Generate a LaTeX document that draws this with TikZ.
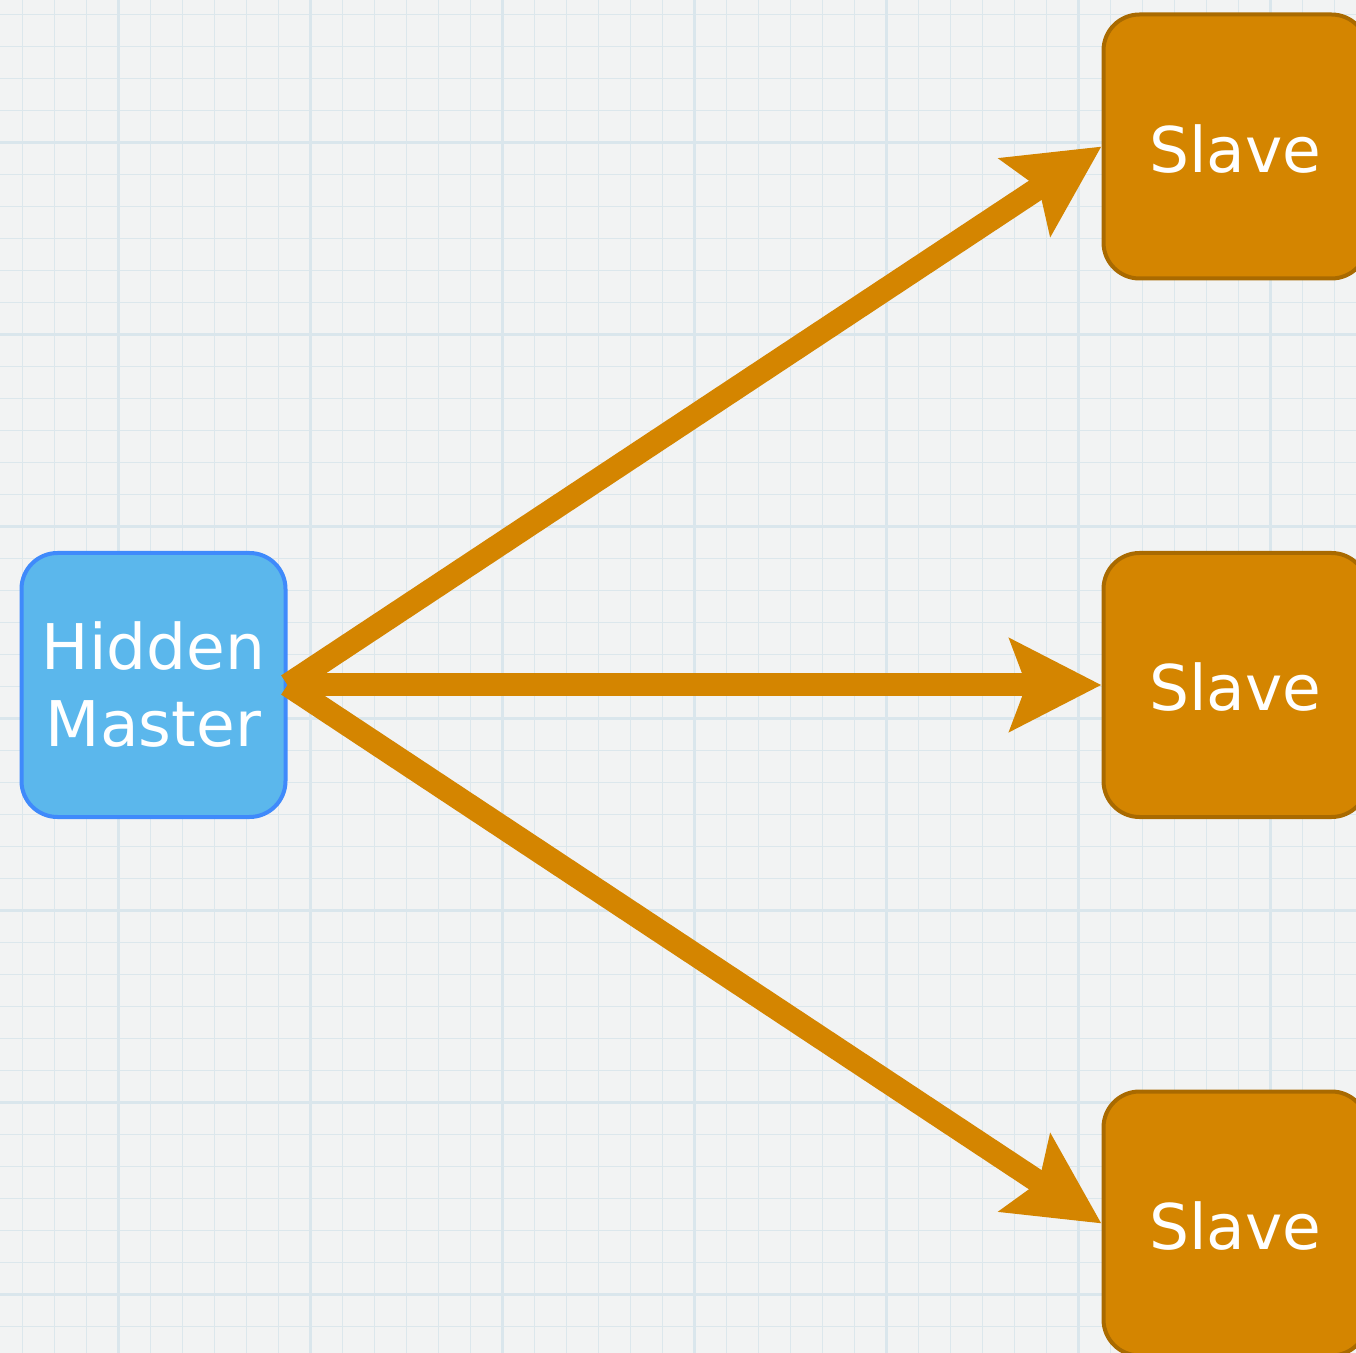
\documentclass[tikz,border=0pt]{standalone}
\usepackage{fontspec}
\setmainfont{DejaVu Sans}
\usetikzlibrary{arrows.meta}
\definecolor{paper}{HTML}{F2F3F3}
\definecolor{gridminor}{HTML}{DCE7EC}
\definecolor{gridmajor}{HTML}{DAE6EC}
\definecolor{masterfill}{HTML}{5BB7EC}
\definecolor{masterline}{HTML}{3F8AFB}
\definecolor{slavefill}{HTML}{D48500}
\definecolor{slaveline}{HTML}{A96A00}

\begin{document}
\begin{tikzpicture}[x=0.5pt, y=-0.5pt,
      box/.style={draw, rounded corners=18pt, line width=2pt, minimum width=132pt, minimum height=132pt,
        inner sep=0pt, align=center, text=white, font=\fontsize{31.5pt}{38.5pt}\selectfont},
      master/.style={box, fill=masterfill, draw=masterline},
      slave/.style={box, fill=slavefill, draw=slaveline, text height=26pt},
      link/.style={-{Stealth[length=45.5pt, width=45.5pt, inset=8pt]}, line width=11.5pt, slavefill}]
      \clip (0,0) rectangle (1356,1353);
      \fill[paper] (0,0) rectangle (1356,1353);
      % squared paper
      \foreach \i in {0,...,42} {
        \draw[gridminor, line width=0.75pt] ({22.5+32*\i},0) -- ({22.5+32*\i},1353);
        \draw[gridminor, line width=0.75pt] (0,{14.5+32*\i}) -- (1356,{14.5+32*\i});
      }
      \foreach \i in {3,9,...,39} \draw[gridmajor, line width=1.1pt] ({22.5+32*\i},0) -- ({22.5+32*\i},1353);
      \foreach \i in {4,10,...,40} \draw[gridmajor, line width=1.1pt] (0,{14.5+32*\i}) -- (1356,{14.5+32*\i});
      \node[master] (hm) at (153.5,685) {Hidden\\Master};
      \node[slave] (s1) at (1235.5,146.5) {Slave};
      \node[slave] (s2) at (1235.5,685) {Slave};
      \node[slave] (s3) at (1235.5,1223.5) {Slave};
      \draw[link] (hm.east) -- (s1.west);
      \draw[link] (hm.east) -- (s2.west);
      \draw[link] (hm.east) -- (s3.west);
    \end{tikzpicture}
\end{document}
